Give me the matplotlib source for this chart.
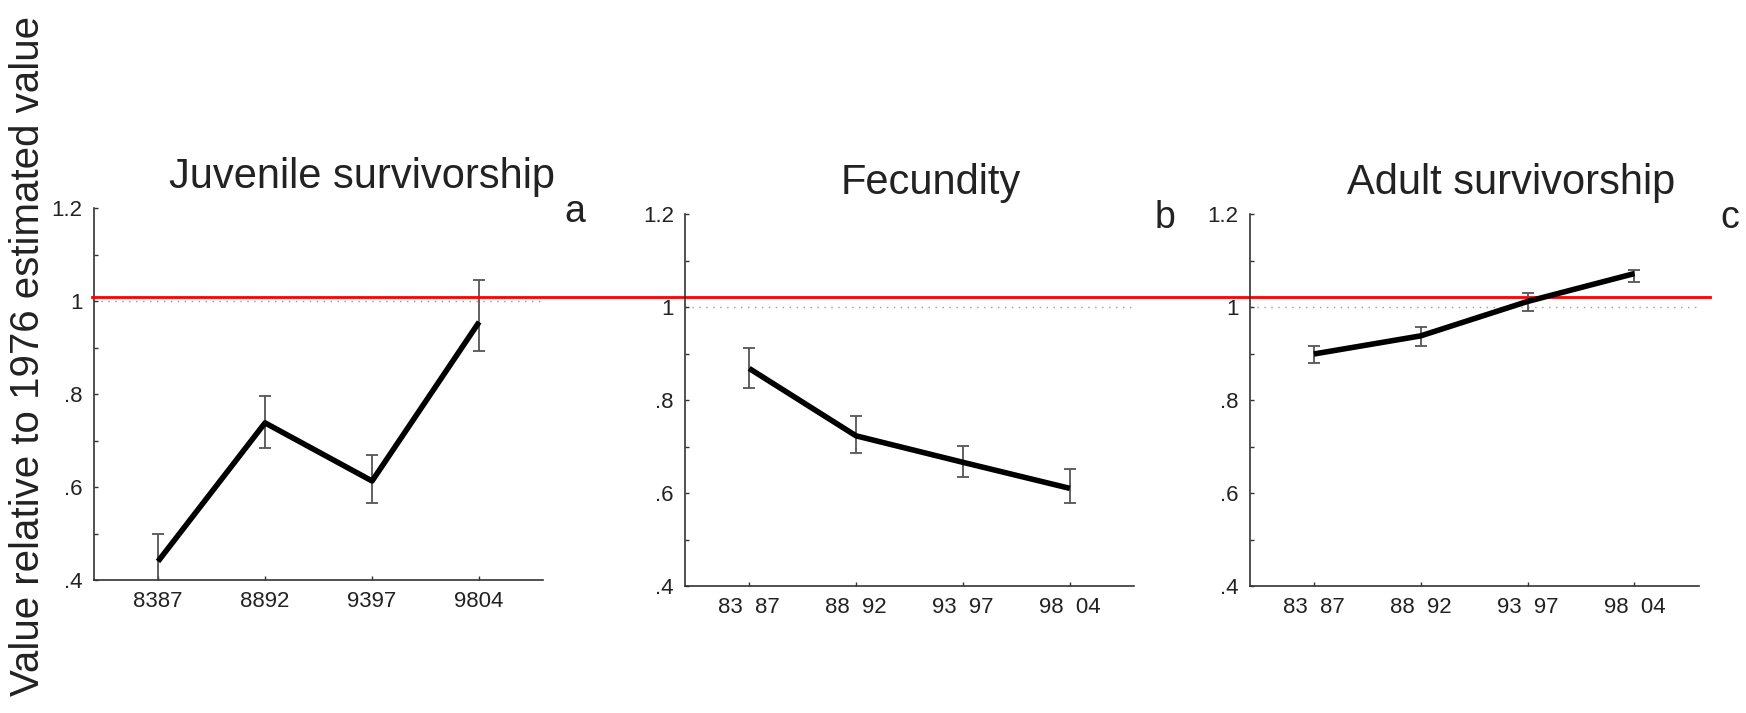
from matplotlib import pyplot as plt
from matplotlib.ticker import MultipleLocator
import numpy as np

plt.rcParams['font.family'] = ['Liberation Sans', 'DejaVu Sans']

# data
periods = [1, 2, 3, 4]
titles = ['Juvenile survivorship', 'Fecundity', 'Adult survivorship']
letters = ['a', 'b', 'c']
xlabels_a = ['8387', '8892', '9397', '9804']
xlabels_bc = ['83  87', '88  92', '93  97', '98  04']

juv = [0.440, 0.738, 0.613, 0.955]
juv_lo = [0.380, 0.685, 0.565, 0.892]
juv_hi = [0.500, 0.796, 0.669, 1.045]

fec = [0.868, 0.723, 0.666, 0.610]
fec_lo = [0.826, 0.685, 0.634, 0.579]
fec_hi = [0.912, 0.766, 0.701, 0.652]

adu = [0.899, 0.938, 1.012, 1.072]
adu_lo = [0.880, 0.917, 0.992, 1.054]
adu_hi = [0.916, 0.956, 1.030, 1.080]

ref_value = 1.0
red_level = 1.009   # red reference line, in panel a units

fig = plt.figure(figsize=(17.46, 7.13), dpi=100)
boxes = [
    [0.0537, 0.1865, 0.2575, 0.5217],
    [0.3923, 0.1781, 0.2572, 0.5217],
    [0.7158, 0.1781, 0.2570, 0.5217],
]
title_x = [0.596, 0.548, 0.583]
series = [(juv, juv_lo, juv_hi), (fec, fec_lo, fec_hi), (adu, adu_lo, adu_hi)]

axes = []
for i in range(3):
    ax = fig.add_axes(boxes[i])
    ax.patch.set_visible(False)
    y, lo, hi = series[i]
    y = np.array(y)
    err = [y - np.array(lo), np.array(hi) - y]

    ax.axhline(ref_value, color='#9a9a9a', lw=1.0, ls=(0, (1, 4)), zorder=1)
    ax.errorbar(periods, y, yerr=err, fmt='none', ecolor='#555555',
                elinewidth=1.3, capsize=4, capthick=1.3, zorder=2)
    ax.plot(periods, y, 'k-', lw=4, zorder=3, solid_capstyle='butt')

    ax.set_xlim(0.4, 4.6)
    ax.set_ylim(0.4, 1.2)
    ax.set_yticks([0.4, 0.6, 0.8, 1.0, 1.2])
    ax.set_yticklabels(['.4', '.6', '.8', '1', '1.2'])
    ax.yaxis.set_minor_locator(MultipleLocator(0.1))
    ax.set_xticks(periods)
    ax.set_xticklabels(xlabels_a if i == 0 else xlabels_bc)

    for s in ['top', 'right']:
        ax.spines[s].set_visible(False)
    for s in ['left', 'bottom']:
        ax.spines[s].set_color('#333333')
        ax.spines[s].set_linewidth(1.2)
    ax.tick_params(which='both', direction='in', length=3, width=1,
                   color='#333333', labelsize=16, labelcolor='#222222', pad=8)

    ax.text(title_x[i], 1.055, titles[i], transform=ax.transAxes,
            ha='center', va='baseline', fontsize=30, color='#222222')
    ax.text(1.07, 0.962, letters[i], transform=ax.transAxes,
            ha='center', va='baseline', fontsize=27, color='#222222')
    axes.append(ax)

# red line spanning all three panels
axes[0].axhline(red_level, xmin=-0.005, xmax=3.595, color='red', lw=2,
                clip_on=False, zorder=5)

fig.text(0.016, 0.5, 'Value relative to 1976 estimated value', rotation=90,
         ha='center', va='center', fontsize=29, color='#222222')

fig.savefig('out.png', dpi=100)
